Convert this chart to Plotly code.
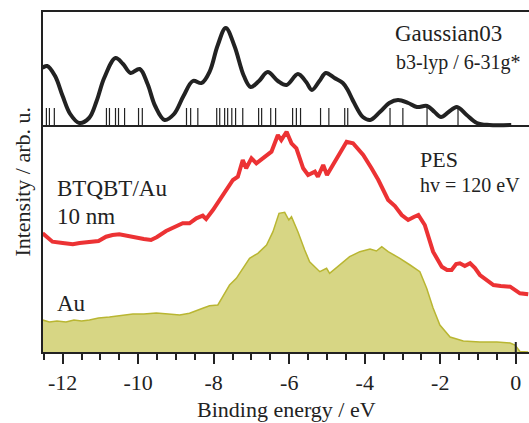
import plotly.graph_objects as go

# ---------------- data ----------------
# Calculated DOS (Gaussian03, b3-lyp / 6-31g*) – height above the top-panel baseline
calc_x = [-12.54, -12.41, -12.2, -12.0, -11.8, -11.56, -11.3, -11.1, -10.9, -10.6, -10.4, -10.2,
          -9.96, -9.75, -9.55, -9.3, -9.05, -8.8, -8.55, -8.32, -8.1, -7.9, -7.68, -7.45, -7.2,
          -7.02, -6.8, -6.57, -6.3, -6.07, -5.77, -5.55, -5.4, -5.2, -5.03, -4.8, -4.58, -4.45,
          -4.32, -4.15, -4.05, -3.86, -3.6, -3.35, -3.12, -2.85, -2.62, -2.35, -2.15, -1.98,
          -1.78, -1.56, -1.3, -1.03, -0.7, -0.12]
calc_y = [58, 60, 50, 30, 12, 3, 8, 25, 48, 68, 62, 53,
          57, 42, 20, 6, 12, 30, 45, 43, 55, 80, 98, 80, 50,
          39, 45, 54, 45, 41, 52, 44, 36, 45, 53, 48, 43, 36,
          26, 14, 9, 6, 14, 23, 26, 23, 19, 20, 14, 9,
          14, 19, 11, 3, 1, 1]

# Calculated molecular-orbital energies (sticks)
stick_x = [-12.43, -12.35, -12.22, -10.84, -10.76, -10.60, -10.52, -10.36, -9.99, -9.89,
           -8.72, -8.61, -8.42, -7.92, -7.84, -7.71, -7.63, -7.52, -7.42, -7.23,
           -6.81, -6.73, -6.49, -6.36, -5.91, -5.81, -5.70, -5.17, -4.95, -4.53,
           -4.45, -3.33, -2.99, -2.35, -1.53]
stick_h = 18

# PES of BTQBT/Au 10 nm
btq_x = [-12.53, -12.40, -12.27, -12.0, -11.73, -11.55, -11.29, -11.05, -10.85, -10.68, -10.50,
         -10.30, -10.05, -9.85, -9.66, -9.50, -9.26, -9.05, -8.82, -8.64, -8.46, -8.29, -8.20,
         -8.02, -7.84, -7.67, -7.49, -7.36, -7.23, -7.14, -7.00, -6.87, -6.69, -6.47, -6.30,
         -6.21, -6.07, -5.94, -5.81, -5.63, -5.50, -5.32, -5.24, -5.10, -5.00, -4.75, -4.48,
         -4.31, -4.04, -3.82, -3.64, -3.38, -3.20, -3.02, -2.85, -2.70, -2.58, -2.41, -2.30,
         -2.19, -1.96, -1.82, -1.70, -1.58, -1.48, -1.35, -1.21, -1.08, -0.95, -0.78, -0.59,
         -0.40, -0.15, 0.11, 0.33]
btq_y = [118.7, 114, 110.3, 109, 107.7, 109, 109.7, 111, 115.3, 117, 117.7,
         116, 114.3, 113, 112, 115, 121, 125, 128.7, 128.7, 133.7, 136.3, 133,
         142, 152, 162, 172, 175.3, 192, 183.7, 193.7, 188.7, 193.7, 200.3, 217,
         212, 220.3, 208.7, 203.7, 183.7, 177, 180.3, 175.3, 187, 177, 193.7, 210.3,
         208.7, 197, 183.7, 172, 152, 146, 137, 132, 135, 137, 127, 115,
         100.3, 85.3, 82, 82, 88, 88.7, 86, 88.7, 84, 77, 72, 67,
         66, 65.3, 58.7, 57.7]

# PES of clean Au
au_x = [-12.53, -12.35, -12.15, -11.91, -11.70, -11.50, -11.29, -11.05, -10.76, -10.50, -10.14,
        -9.85, -9.52, -9.20, -8.90, -8.64, -8.46, -8.29, -8.11, -7.89, -7.76, -7.58, -7.40,
        -7.23, -7.05, -6.83, -6.60, -6.43, -6.27, -6.12, -6.01, -5.94, -5.77, -5.59, -5.46,
        -5.19, -5.01, -4.93, -4.71, -4.40, -4.13, -3.86, -3.69, -3.55, -3.38, -3.07, -2.80,
        -2.54, -2.36, -2.19, -2.01, -1.74, -1.39, -0.95, -0.50, -0.15, -0.02, 0.11, 0.33]
au_y = [32, 30, 31, 30, 32, 31, 32, 34, 35, 36, 38,
        38, 39, 38, 37, 38.7, 41, 43.7, 46.3, 47, 55.3, 67, 73.7,
        83.7, 93.7, 98.7, 107, 120.3, 138.7, 139.7, 132, 135.3, 120.3, 102, 90.3,
        80.3, 83.7, 78.7, 85.3, 95.3, 100.3, 103, 101, 105.3, 100.3, 93.7, 87,
        80.3, 63.7, 44, 27, 15, 11, 10, 10, 9, 7, 0.5, 0]

tick_vals = [-12, -10, -8, -6, -4, -2, 0]
tick_text = ["-12", "-10", "-8", "-6", "-4", "-2", "0"]

TOP_BASE = 226   # baseline of the calculated-spectrum panel
Y_MAX = 340
X_RANGE = [-12.52, 0.35]

# ---------------- figure ----------------
FONT = "Liberation Serif"
INK = "#222"
fig = go.Figure()

# Au (filled)
fig.add_trace(go.Scatter(x=au_x, y=au_y, mode="lines", fill="tozeroy",
                         line=dict(color="rgb(185,182,50)", width=1.5),
                         fillcolor="rgb(215,214,132)", showlegend=False))
# BTQBT/Au
fig.add_trace(go.Scatter(x=btq_x, y=btq_y, mode="lines",
                         line=dict(color="rgb(236,50,52)", width=4),
                         showlegend=False))
# sticks
sx, sy = [], []
for v in stick_x:
    sx += [v, v, None]
    sy += [TOP_BASE, TOP_BASE + stick_h, None]
fig.add_trace(go.Scatter(x=sx, y=sy, mode="lines", line=dict(color=INK, width=1.2),
                         showlegend=False))
# calculated curve
fig.add_trace(go.Scatter(x=calc_x, y=[TOP_BASE + v for v in calc_y], mode="lines",
                         line=dict(color=INK, width=4, shape="spline", smoothing=1.0),
                         showlegend=False))

# baseline of top panel
fig.add_shape(type="line", xref="paper", x0=0, x1=1, yref="y", y0=TOP_BASE, y1=TOP_BASE,
              line=dict(color=INK, width=2))
# small inner mark at the Fermi level
fig.add_shape(type="line", xref="x", x0=0, x1=0, yref="y", y0=0, y1=10,
              line=dict(color=INK, width=2))

def ann(text, x, y, size, xanchor="left"):
    fig.add_annotation(text=text, x=x, y=y, xref="x", yref="y", showarrow=False,
                       xanchor=xanchor, yanchor="middle",
                       font=dict(family=FONT, size=size, color=INK))

ann("Gaussian03", -3.24, 319, 23)
ann("b3-lyp / 6-31g*", -3.22, 290, 20)
ann("PES", -2.58, 193, 22)
ann("hv = 120 eV", -2.58, 167, 20)
ann("BTQBT/Au", -12.21, 164, 23)
ann("10 nm", -12.21, 136, 23)
ann("Au", -12.21, 49, 23)

# axis titles
fig.add_annotation(text="Binding energy / eV", xref="paper", yref="paper",
                   x=0.5, y=-0.17, showarrow=False, xanchor="center", yanchor="middle",
                   font=dict(family=FONT, size=22, color=INK))
fig.add_annotation(text="Intensity / arb. u.", xref="paper", yref="paper",
                   x=-0.044, y=0.5, showarrow=False, xanchor="center", yanchor="middle",
                   textangle=-90, font=dict(family=FONT, size=22, color=INK))

fig.update_xaxes(range=X_RANGE, showline=True, mirror=True, linecolor=INK, linewidth=2,
                 ticks="outside", ticklen=10, tickwidth=2, tickcolor=INK,
                 tickmode="array", tickvals=tick_vals, ticktext=tick_text,
                 minor=dict(ticks="outside", ticklen=6, tickwidth=2, tickcolor=INK, dtick=0.5,
                            tick0=0),
                 showgrid=False, zeroline=False,
                 tickfont=dict(family=FONT, size=22, color=INK))
fig.update_yaxes(range=[0, Y_MAX], showline=True, linecolor=INK, linewidth=2,
                 showticklabels=False, ticks="", showgrid=False, zeroline=False)

fig.update_layout(width=529, height=423, margin=dict(l=43, r=0, t=12, b=71),
                  paper_bgcolor="white", plot_bgcolor="white", showlegend=False)

fig.write_html("out.html")
